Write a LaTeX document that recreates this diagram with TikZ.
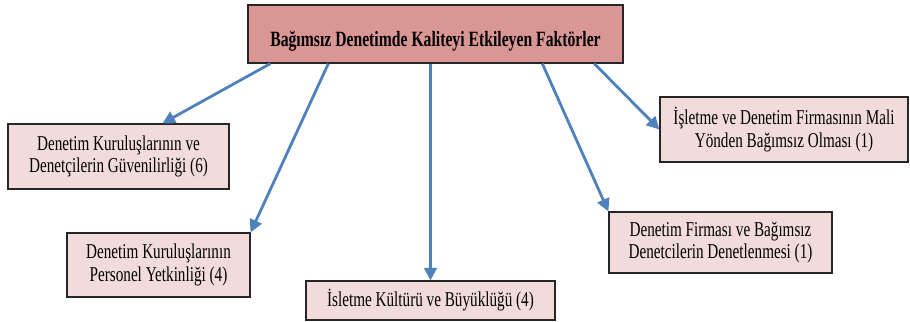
\documentclass[tikz,border=0pt]{standalone}
\usepackage{fontspec}
\setmainfont[FakeStretch=0.72]{Liberation Serif}
\usetikzlibrary{arrows.meta,calc}
\definecolor{TitleRed}{RGB}{217,150,148}
\definecolor{BoxPink}{RGB}{242,220,219}
\definecolor{ArrowBlue}{RGB}{79,129,189}

\tikzset{
  factor/.style={draw=black!85, line width=0.8pt, fill=BoxPink, align=center,
    inner sep=0pt, font=\fontsize{15}{16}\selectfont},
  link/.style={draw=ArrowBlue, line width=2pt, -{Triangle[length=9pt,width=9pt]}}
}

\begin{document}
\begin{tikzpicture}[x=0.025cm, y=-0.025cm]
  \useasboundingbox (0,0) rectangle (910,322);
  % main box
  \node[draw=black!85, line width=0.9pt, fill=TitleRed, inner sep=0pt,
        minimum width=9.375cm, minimum height=1.45cm,
        text height=20pt, text depth=2.5pt,
        font=\fontsize{15.5}{16}\selectfont\bfseries] (title) at (435.5,34)
        {Bağımsız Denetimde Kaliteyi Etkileyen Faktörler};
  % factors
  \node[factor, minimum width=5.525cm, minimum height=1.625cm] (guven) at (118.5,156.5)
        {Denetim Kuruluşlarının ve\\Denetçilerin Güvenilirliği (6)};
  \node[factor, minimum width=4.575cm, minimum height=1.6cm] (yetkin) at (158.5,265)
        {Denetim Kuruluşlarının\\Personel Yetkinliği (4)};
  \node[factor, minimum width=6.225cm, minimum height=0.975cm] (kultur) at (430.5,300.5)
        {İsletme Kültürü ve Büyüklüğü (4)};
  \node[factor, minimum width=5.575cm, minimum height=1.525cm] (denet) at (720.5,242.5)
        {Denetim Firması ve Bağımsız\\Denetcilerin Denetlenmesi (1)};
  \node[factor, minimum width=6.2cm, minimum height=1.625cm] (mali) at (784,129.5)
        {İşletme ve Denetim Firmasının Mali\\Yönden Bağımsız Olması (1)};
  % arrows
  \draw[link] ($(title.south west)+(23,0)$) -- ($(guven.north west)+(155,0)$);
  \draw[link] ($(title.south west)+(81,0)$) -- (yetkin.north east);
  \draw[link] (title.south -| kultur.north) -- (kultur.north);
  \draw[link] ($(title.south west)+(295,0)$) -- (denet.north west);
  \draw[link] ($(title.south west)+(347,0)$) -- (mali.west);
\end{tikzpicture}
\end{document}
